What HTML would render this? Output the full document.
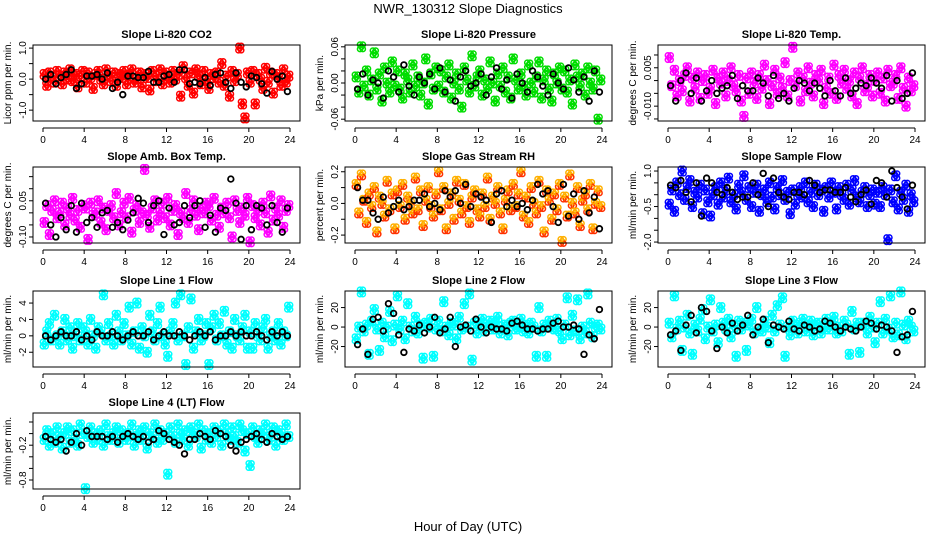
<!DOCTYPE html>
<html><head><meta charset="utf-8"><style>
html,body{margin:0;padding:0;background:#fff}
svg{display:block;font-family:"Liberation Sans",Arial,sans-serif}
</style></head><body>
<svg id="chart" width="936" height="540" viewBox="0 0 936 540">
<text x="468" y="13" text-anchor="middle" font-size="13">NWR_130312  Slope Diagnostics</text>
<text x="468" y="531" text-anchor="middle" font-size="13">Hour of Day (UTC)</text>
</svg>
<script>
const titles=["Slope Li-820 CO2","Slope Li-820 Pressure","Slope Li-820 Temp.","Slope Amb. Box Temp.","Slope Gas Stream RH","Slope Sample Flow","Slope Line 1 Flow","Slope Line 2 Flow","Slope Line 3 Flow","Slope Line 4 (LT) Flow"];
const yTitles=["Licor ppm per min.","kPa per min.","degrees C per min.","degrees C per min.","percent per min.","ml/min per min.","ml/min per min.","ml/min per min.","ml/min per min.","ml/min per min."];
const colors=["#ff0000","#00dd00","#ff00ff","#ff00ff","#ffa500","#0000ff","#00ffff","#00ffff","#00ffff","#00ffff"];
const units=[0.05,0.005,0.001,0.01,0.02,0.1,0.5,2,2,0.05];
const yMins=[-1.35,-0.063,-0.0158,-0.125,-0.25,-2.04,-3.8,-41,-41,-0.955];
const yMaxs=[1.1,0.063,0.0139,0.19,0.23,1.17,5.47,37,37,0.355];
const yTicks=[[-1,-0.5,0,0.5,1],[-0.06,-0.04,-0.02,0,0.02,0.04,0.06],[-0.015,-0.01,-0.005,0,0.005,0.01],[-0.1,-0.05,0,0.05,0.1,0.15],[-0.2,-0.1,0,0.1,0.2],[-2,-1.5,-1,-0.5,0,0.5,1],[-2,0,2,4],[-20,0,20],[-20,0,20],[-0.8,-0.6,-0.4,-0.2,0,0.2]];
const yTickLabels=[["-1.0","","0.0","","1.0"],["-0.06","","","0.00","","","0.06"],["","-0.010","","","0.005",""],["-0.10","","","0.05","",""],["-0.2","","0.0","","0.2"],["-2.0","","","-0.5","","","1.0"],["-2","0","2","4"],["-20","0","20"],["-20","0","20"],["-0.8","","","-0.2","",""]];
const xTicks=[0,4,8,12,16,20,24];
const colored=[
[3,-4,4,1,-2,5,2,-3,4,0,6,-1,3,-5,2,5,-2,4,1,-6,3,5,0,-3,6,2,-1,4,-4,3,1,5,-3,2,6,-2,0,4,-5,3,1,-7,5,2,-1,6,-3,4,2,-2,5,0,3,-11,8,1,-4,4,-9,6,2,-3,5,-1,-6,3,1,4,-2,10,-4,2,-11,5,-1,3,20,-16,-25,4,-2,5,-16,3,0,-6,7,-2,4,-9,3,1,-4,6,-2,2],
[2,-3,12,-1,4,-4,1,10,-2,3,-6,5,0,-3,7,-1,4,-2,-5,3,1,-3,6,-1,2,-4,0,8,-7,3,-2,5,-1,4,-3,2,6,-5,0,3,-2,-8,5,1,-3,9,-1,2,4,-4,1,-2,7,0,-6,3,-1,5,-3,2,-5,8,1,-2,3,-1,-4,6,0,-3,2,7,-5,1,4,-2,-6,3,0,5,-2,4,-3,1,-7,6,2,-1,3,-4,5,0,-2,4,-12,1],
[9,-2,4,-6,0,-4,2,5,-8,1,-3,3,-7,0,2,-5,-3,4,-9,1,-1,3,-6,0,5,-2,-4,2,-8,-14,1,-5,3,-1,-7,2,-3,6,0,-9,-2,4,-5,1,-3,7,-6,0,13,-2,3,-8,1,-4,5,-1,-6,2,0,4,-9,-3,1,-5,6,-7,2,-1,4,-3,0,-6,3,-9,1,5,-4,-2,2,-6,0,3,-5,1,-8,4,-2,-1,2,-7,5,-3,-10,1,-4,-2],
[-4,3,-9,1,5,-2,0,4,-5,2,-1,6,-3,1,-6,3,2,-11,4,-1,0,5,-4,2,-7,1,3,-2,8,-5,0,4,-2,6,-8,1,3,-4,0,18,-1,-6,2,5,-3,0,4,-2,6,-5,1,3,-9,0,-2,8,-4,1,5,-1,-7,2,0,4,3,-3,6,-1,-6,2,0,4,-2,-10,5,1,-4,2,-1,6,-12,3,-2,1,-5,4,0,-8,7,-3,2,-1,5,-6,1,3],
[6,-3,9,1,-6,3,-1,5,-9,2,0,-4,7,-2,3,-8,4,-1,6,-5,2,0,-3,8,-2,4,-7,1,5,-1,-4,3,10,-2,5,-8,0,3,-5,7,1,-3,6,-1,-6,2,4,-2,-4,3,-1,8,-5,2,0,5,-3,-8,1,4,-2,6,-1,3,10,-4,2,-6,5,0,-3,7,-1,-9,4,1,-5,3,-2,6,-12,2,-4,9,0,-3,5,-7,1,3,-2,6,-8,0,4,-1],
[-4,2,-7,5,0,10,-2,3,6,-5,1,-1,4,-8,2,-3,-9,0,3,-4,5,-1,2,7,-3,0,-6,4,1,8,-2,3,-5,1,4,-7,0,2,-3,5,-1,-6,3,0,6,-2,1,-8,2,-4,0,3,-1,5,-3,1,-5,4,0,2,-7,3,-1,5,1,-6,3,0,-2,4,-4,2,6,-1,-3,1,3,-5,0,2,-4,1,-5,3,0,-19,2,-3,8,-6,1,-2,4,-7,0,-3],
[-2,1,3,-1,5,0,-2,1,4,-1,2,-3,0,3,-1,2,1,-2,4,0,-3,2,1,10,-1,3,0,-2,5,1,-1,3,0,7,-2,1,8,-3,2,0,-4,5,1,-1,3,7,0,-2,-5,1,3,8,-1,10,0,-7,2,9,-3,1,4,-1,0,3,-7,2,5,-1,3,0,6,-2,1,-3,4,0,-1,2,5,-3,1,-3,3,0,-1,2,4,-3,0,1,-1,3,-2,1,0,7],
[-6,0,18,-2,1,-14,3,9,-1,-12,2,-5,0,8,-7,1,16,-1,3,-6,12,0,-2,5,-3,1,-16,2,0,4,-15,-1,3,-2,13,0,-4,2,1,-6,5,-1,12,0,17,-17,2,-3,1,4,-2,0,3,-1,2,5,-3,0,1,-4,2,3,-1,0,4,-2,1,-3,2,0,-15,10,-2,1,-15,3,0,-1,4,-2,-6,1,15,-4,6,-2,14,-6,0,-3,17,2,-5,0,1,-1],
[2,-5,16,-1,3,-12,0,6,-3,-14,1,-2,4,9,-6,0,14,-2,1,-8,10,2,-1,4,-5,0,-15,3,-1,2,-12,1,4,-3,10,-1,-2,3,0,-8,6,-2,11,1,15,-15,0,-4,3,1,-3,2,4,-2,0,3,-4,1,2,-3,0,4,-1,2,5,-3,0,-2,3,1,-14,8,-1,2,-13,2,1,-3,5,0,-8,2,13,-3,4,-1,16,-5,2,-4,18,1,-6,3,0,-2],
[-2,1,-4,0,-3,2,-1,-5,0,2,-3,1,-2,-4,3,0,-19,-1,2,-3,0,-2,1,-4,3,-1,-2,0,2,-3,1,-1,-2,0,3,-4,-1,1,-2,2,-5,0,-1,3,-3,1,-2,0,-14,2,-1,-3,3,0,-2,1,-4,2,0,-1,3,-5,1,-2,0,-3,2,-1,1,-4,3,0,-2,2,-1,-3,3,1,-6,0,-11,2,-1,-3,1,0,3,-2,-1,2,-4,1,0,-2,3,-1]
];
const black=[
[0,3,-3,1,3,6,-6,-3,2,2,3,0,4,-6,-2,-10,2,2,1,1,5,-2,-2,2,3,-2,6,6,-3,-2,-3,1,-4,3,4,-2,-6,4,-2,-5,2,1,-3,-9,5,0,2,-8],
[-2,3,-4,1,0,-5,4,2,-3,6,-1,-4,2,0,3,-2,5,-3,1,-6,2,4,-1,0,3,-4,2,5,-2,1,-5,3,0,-3,4,2,-1,-4,3,0,-2,5,1,-3,2,-6,4,-3],
[-2,-8,0,3,-5,1,-8,-4,0,-5,-3,-2,2,-7,-2,-4,-4,1,-1,-6,2,-7,-5,-8,-3,0,-1,-4,-1,-3,-6,0,-4,-6,1,-5,-3,-1,-2,1,-1,-3,2,-8,0,-7,-5,3],
[4,-5,-10,-2,-7,3,-8,4,-4,-2,-6,0,1,-6,-4,-7,-3,0,6,4,-4,3,5,-9,2,-5,-4,3,-2,3,5,-6,-1,-8,2,1,14,4,-11,3,-7,3,2,-5,3,-4,-8,2],
[5,1,1,-3,-5,2,-3,-1,1,-2,-1,1,1,3,-1,0,-2,4,2,4,0,6,-1,3,2,1,-6,3,4,-1,1,-1,0,-2,1,6,3,4,-1,-6,6,-4,3,-5,4,-3,2,-8],
[4,3,6,1,-3,5,-9,7,5,1,0,3,1,-2,-1,-1,5,0,9,-5,7,1,-1,-2,1,1,0,6,4,1,2,2,1,1,3,-1,-3,0,2,-4,6,5,-1,10,3,-1,-6,4],
[0,-1,0,1,0,0,1,-1,0,-1,1,0,0,1,0,-1,0,1,0,0,1,-1,0,1,0,0,1,0,-1,0,1,0,1,-1,0,0,1,0,1,0,0,1,0,-1,1,0,1,0],
[-9,-1,-14,4,5,-2,12,7,-4,-13,-1,-2,1,-3,0,5,-3,-1,5,-10,0,1,-2,4,0,-3,0,-1,-1,-2,2,3,1,-1,-1,-2,-1,-1,2,3,0,0,1,-1,-14,-4,-6,9],
[-4,-2,-12,1,6,-3,10,8,-2,-11,0,-3,2,-2,1,6,-4,0,4,-8,1,0,-1,3,-1,-2,1,0,-2,-1,3,2,0,-2,0,-1,-2,0,3,2,-1,1,0,-2,-13,-5,-4,8],
[-1,-2,-3,-2,-6,-3,0,-4,1,-1,-1,-1,-2,-1,-3,-1,0,-1,-2,-1,-3,-2,1,0,-2,-3,-4,-7,-2,-2,0,-1,-2,1,0,-1,-4,-6,-3,-2,-1,0,-2,-3,0,-1,-2,-1]
];
const NS="http://www.w3.org/2000/svg";
const svg=document.getElementById('chart');
const boxXs=[33,345,658], boxW=267;
const boxYs=[45,167,291,413], boxH=76;
const offs=[[0,0],[-1.4,2.2],[1.4,-2.2],[1.4,2.2],[-1.4,-2.2]];
function mk(tag,attrs,parent){const e=document.createElementNS(NS,tag);for(const k in attrs)e.setAttribute(k,attrs[k]);parent.appendChild(e);return e;}
for(let p=0;p<10;p++){
  const col=p%3,row=Math.floor(p/3);
  const bx=boxXs[col],by=boxYs[row];
  const g=mk('g',{},svg);
  
  
  const xs=h=>bx+10+h*(boxW-20)/24;
  const ys=v=>by+boxH-(v-yMins[p])/(yMaxs[p]-yMins[p])*boxH;
  const t=mk('text',{x:bx+boxW/2,y:by-7,'text-anchor':'middle','font-size':11,'font-weight':'bold'},g);
  t.textContent=titles[p];
  
  
  const yt=mk('text',{transform:`translate(${bx-22},${by+boxH/2}) rotate(-90)`,'text-anchor':'middle','font-size':10},g);
  yt.textContent=yTitles[p];
  
  
  const cg=mk('g',{fill:'none'},g);
  
  
  const cv=colored[p],n=cv.length;
  cv.forEach((v,i)=>{
    const h=(i+0.5)*24/n,cx=xs(h),cy=ys(v*units[p]);
    offs.forEach((o,k)=>{
      const c=mk('circle',{cx:cx+o[0],cy:cy+o[1],r:2.6,stroke:p===4?(k%2?'#ff3000':'#ffb000'):colors[p],'stroke-width':1.5},cg);
      
      
    });
  });
  const bv=black[p],m=bv.length;
  bv.forEach((v,i)=>{
    const h=(i+0.5)*24/m;
    const c=mk('circle',{cx:xs(h),cy:ys(v*units[p]),r:2.8,stroke:'#000','stroke-width':1.8,fill:'none'},g);
    
    
  });
  const r=mk('rect',{x:bx,y:by,width:boxW,height:boxH,fill:'none',stroke:'#000','stroke-width':1},g);
  
  
  const xa=mk('g',{},g);
  
  
  mk('line',{x1:xs(0),x2:xs(24),y1:by+boxH+7,y2:by+boxH+7,stroke:'#000'},xa);
  xTicks.forEach(h=>{
    mk('line',{x1:xs(h),x2:xs(h),y1:by+boxH+7,y2:by+boxH+11,stroke:'#000'},xa);
    const tl=mk('text',{x:xs(h),y:by+boxH+22,'text-anchor':'middle','font-size':10},xa);
    tl.textContent=h;
    
    
  });
  const ya=mk('g',{},g);
  
  
  const tk=yTicks[p];
  mk('line',{x1:bx,x2:bx,y1:ys(tk[0]),y2:ys(tk[tk.length-1]),stroke:'#000'},ya);
  tk.forEach((v,i)=>{
    mk('line',{x1:bx-4,x2:bx,y1:ys(v),y2:ys(v),stroke:'#000'},ya);
    if(yTickLabels[p][i]){
      const tl=mk('text',{transform:`translate(${bx-7},${ys(v)}) rotate(-90)`,'text-anchor':'middle','font-size':10},ya);
      tl.textContent=yTickLabels[p][i];
      
      
    }
  });
}
</script>
</body></html>
